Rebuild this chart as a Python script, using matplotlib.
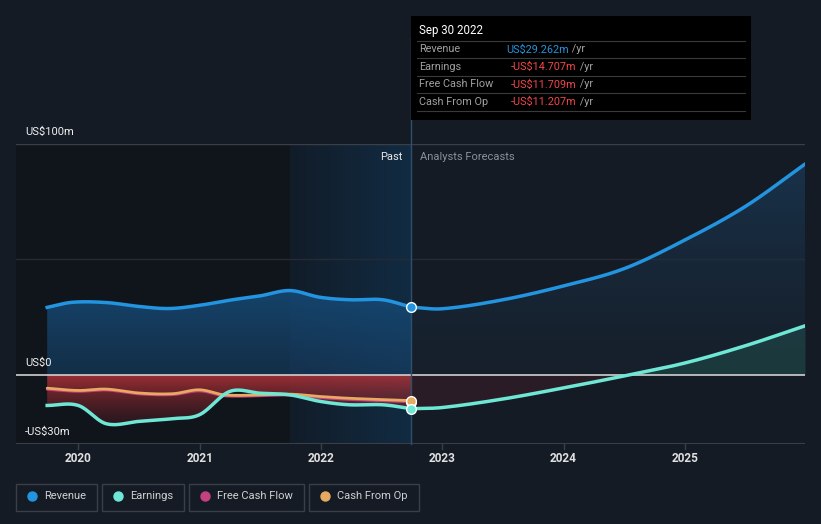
import numpy as np
import matplotlib.pyplot as plt
from matplotlib.colors import LinearSegmentedColormap

# --- data (US$m, x in fractional years) ---
rev_past_x = [2019.744, 2019.95, 2020.23, 2020.50, 2020.75, 2021.0, 2021.27, 2021.50, 2021.744, 2021.99, 2022.24, 2022.51, 2022.744]
rev_past_y = [29.2, 31.4, 31.3, 29.6, 28.7, 30.1, 32.5, 34.2, 36.5, 33.6, 32.5, 32.5, 29.3]
rev_fc_x = [2022.744, 2023.0, 2023.5, 2024.0, 2024.5, 2025.0, 2025.5, 2025.99]
rev_fc_y = [29.3, 28.6, 32.5, 38.5, 46.0, 58.4, 73.0, 91.3]

earn_past_x = [2019.744, 2020.0, 2020.23, 2020.50, 2020.78, 2021.0, 2021.25, 2021.5, 2021.744, 2021.99, 2022.23, 2022.51, 2022.744]
earn_past_y = [-13.3, -13.3, -21.2, -20.2, -19.0, -17.3, -7.2, -8.0, -8.7, -11.5, -13.0, -13.0, -14.7]
earn_fc_x = [2022.744, 2023.0, 2023.5, 2024.0, 2024.5, 2025.0, 2025.5, 2025.99]
earn_fc_y = [-14.7, -14.2, -10.5, -5.7, -0.5, 5.1, 12.6, 21.2]

cfo_x = [2019.744, 2020.0, 2020.23, 2020.50, 2020.78, 2021.0, 2021.22, 2021.744, 2021.99, 2022.24, 2022.744]
cfo_y = [-5.8, -6.8, -6.2, -7.9, -8.2, -6.5, -8.8, -8.4, -9.4, -10.2, -11.2]
fcf_y = [-6.3, -7.2, -6.6, -8.3, -8.6, -7.0, -9.2, -8.8, -9.9, -10.7, -11.7]

legend_names = ["Revenue", "Earnings", "Free Cash Flow", "Cash From Op"]
tip_rows = [("Revenue", "US$29.262m"), ("Earnings", "-US$14.707m"),
            ("Free Cash Flow", "-US$11.709m"), ("Cash From Op", "-US$11.207m")]

C_REV = "#2394df"
C_EARN = "#6ee7d5"
C_FCF = "#c4407f"
C_CFO = "#e8a961"
BG = "#151b25"

W, H = 821, 524
fig = plt.figure(figsize=(W / 100, H / 100), dpi=100, facecolor=BG)
ax = fig.add_axes([16 / W, (H - 444) / H, (805 - 16) / W, 300 / H])
ax.set_facecolor(BG)
ax.set_xlim(2019.487, 2025.99)
ax.set_ylim(-30, 100)
for s in ax.spines.values():
    s.set_visible(False)
ax.tick_params(left=False, labelleft=False, bottom=False, labelbottom=False)

past_end = 2022.744
hl_start = 2021.744

# darker past region
ax.axvspan(ax.get_xlim()[0], hl_start, color="#0f1318", alpha=0.75, lw=0, zorder=0)
# blue highlight gradient
grad = np.linspace(0, 1, 256).reshape(1, -1)
cm_hl = LinearSegmentedColormap.from_list("hl", [(0.07, 0.11, 0.16, 1), (0.07, 0.17, 0.26, 1)])
ax.imshow(grad, extent=[hl_start, past_end, -30, 100], aspect="auto", cmap=cm_hl, zorder=0.5)

# grid lines
ax.axhline(100, color="#3a3f47", lw=1, zorder=1)
ax.axhline(50, color="#262b33", lw=1, zorder=1)
ax.axhline(-30, color="#3a3f47", lw=1.5, zorder=1)


def grad_fill(x, y, base, c_top, c_bot, z):
    poly = ax.fill_between(x, y, base, color="none", lw=0, zorder=z)
    cm = LinearSegmentedColormap.from_list("g", [c_bot, c_top])
    lo, hi = min(min(y), base), max(max(y), base)
    g = np.linspace(0, 1, 256).reshape(-1, 1)
    im = ax.imshow(g, extent=[min(x), max(x), lo, hi], origin="lower", aspect="auto",
                   cmap=cm, zorder=z)
    im.set_clip_path(poly.get_paths()[0], transform=ax.transData)


def smooth(x, y):
    x = np.asarray(x, float)
    y = np.asarray(y, float)
    pts = []
    for i in range(len(x) - 1):
        x0, x1 = x[i], x[i + 1]
        y0, y1 = y[i], y[i + 1]
        m0 = (y[i + 1] - y[i - 1]) / (x[i + 1] - x[i - 1]) if i > 0 else (y1 - y0) / (x1 - x0)
        m1 = (y[i + 2] - y[i]) / (x[i + 2] - x[i]) if i + 2 < len(x) else (y1 - y0) / (x1 - x0)
        t = np.linspace(0, 1, 30, endpoint=False)
        h = x1 - x0
        h00 = 2 * t**3 - 3 * t**2 + 1
        h10 = t**3 - 2 * t**2 + t
        h01 = -2 * t**3 + 3 * t**2
        h11 = t**3 - t**2
        pts.append(np.column_stack([x0 + t * h, h00 * y0 + h10 * h * m0 + h01 * y1 + h11 * h * m1]))
    pts.append([[x[-1], y[-1]]])
    p = np.vstack(pts)
    return p[:, 0], p[:, 1]


rpx, rpy = smooth(rev_past_x, rev_past_y)
rfx, rfy = smooth(rev_fc_x, rev_fc_y)
epx, epy = smooth(earn_past_x, earn_past_y)
efx, efy = smooth(earn_fc_x, earn_fc_y)

# revenue fills
grad_fill(rpx, rpy, 0, (0.09, 0.30, 0.48, 0.85), (0.09, 0.25, 0.40, 0.6), 2)
grad_fill(rfx, rfy, 0, (0.10, 0.22, 0.33, 0.8), (0.10, 0.16, 0.22, 0.3), 2)
# negative (past) red fill
grad_fill(epx, epy, 0, (0.70, 0.20, 0.22, 0.85), (0.30, 0.10, 0.14, 0.4), 2)
ax.fill_between(efx, efy, 0, where=efy < 0, interpolate=True, color="#3a1e28", alpha=0.55, lw=0, zorder=2)
ax.fill_between(efx, efy, 0, where=efy > 0, interpolate=True, color="#1f4a4a", alpha=0.6, lw=0, zorder=2)

ax.axhline(0, color="#d0d0d0", lw=1.2, zorder=3)

ax.plot(*smooth(cfo_x, fcf_y), color=C_FCF, lw=2, zorder=4, solid_capstyle="round")
ax.plot(*smooth(cfo_x, cfo_y), color=C_CFO, lw=2, zorder=4.1, solid_capstyle="round")
ax.plot(epx, epy, color=C_EARN, lw=2.5, zorder=4.2)
ax.plot(efx, efy, color=C_EARN, lw=2.5, zorder=4.2)
ax.plot(rpx, rpy, color=C_REV, lw=2.5, zorder=4.2)
ax.plot(rfx, rfy, color=C_REV, lw=2.5, zorder=4.2)

# markers at Sep 30 2022
for yv, c in [(rev_past_y[-1], C_REV), (fcf_y[-1], C_FCF), (cfo_y[-1], C_CFO), (earn_past_y[-1], C_EARN)]:
    ax.plot([past_end], [yv], "o", ms=7, mfc=c, mec="white", mew=1, zorder=6)

# vertical divider extending to tooltip
ax.plot([past_end, past_end], [-30, 146], color="#2f4f6c", lw=1, zorder=5, clip_on=False)

# x ticks
for yr in range(2020, 2026):
    ax.plot([yr, yr], [-30, -32], color="#3a3f47", lw=1, clip_on=False)
    ax.text(yr, -36.2, str(yr), color="#e0e0e0", fontsize=8.5, ha="center", va="center",
            fontweight="bold", family="Roboto")

ax.text(past_end - 0.07, 94.5, "Past", color="#e8e8e8", fontsize=8, ha="right", va="center", family="Roboto")
ax.text(past_end + 0.07, 94.5, "Analysts Forecasts", color="#8a9099", fontsize=8, ha="left", va="center",
        family="Roboto")

# y labels
for txt, yp in [("US$100m", 132), ("US$0", 363), ("-US$30m", 432)]:
    fig.text(25 / W, 1 - yp / H, txt, color="#f0f0f0", fontsize=8, ha="left", va="center", family="Roboto")

# tooltip
tip = fig.add_axes([411 / W, 1 - 120 / H, 340 / W, 104 / H])
tip.set_xlim(0, 340)
tip.set_ylim(104, 0)
tip.axis("off")
tip.add_patch(plt.Rectangle((0, 0), 340, 104, color="#000000", zorder=0))
tip.text(8, 15, "Sep 30 2022", color="white", fontsize=8.3, va="center", family="Roboto")
for i, (name, val) in enumerate(tip_rows):
    yy = 33.5 + i * 17.5
    tip.plot([6, 334], [yy - 8.8, yy - 8.8], color="#3a3a3a", lw=0.8)
    tip.text(8, yy, name, color="#a0a0a0", fontsize=7.8, va="center", family="Roboto")
    neg = val.startswith("-")
    vc = "#f0474a" if neg else C_REV
    t = tip.text(100 if neg else 95, yy, val, color=vc, fontsize=7.8, va="center", family="Roboto")
    tip.annotate(" /yr", xycoords=t, xy=(1, 0.5), va="center", color="#a0a0a0", fontsize=7.8,
                 family="Roboto")
tip.plot([6, 334], [33.5 + 4 * 17.5 - 8.8] * 2, color="#3a3a3a", lw=0.8)

# legend buttons
leg_boxes = [(16, 97), (102, 184), (189, 304), (309, 419)]
colors = [C_REV, C_EARN, C_FCF, C_CFO]
lax = fig.add_axes([0, 0, 1, 1], facecolor="none")
lax.set_xlim(0, W)
lax.set_ylim(H, 0)
lax.axis("off")
for (x0, x1), name, c in zip(leg_boxes, legend_names, colors):
    lax.add_patch(plt.Rectangle((x0, 484), x1 - x0, 27, fill=False, ec="#3a3f47", lw=1))
    lax.plot([x0 + 16], [496], "o", ms=6.5, color=c)
    lax.text(x0 + 28, 496, name, color="#d0d0d0", fontsize=8, va="center", family="Roboto")

fig.savefig("out.png", dpi=100, facecolor=BG)
